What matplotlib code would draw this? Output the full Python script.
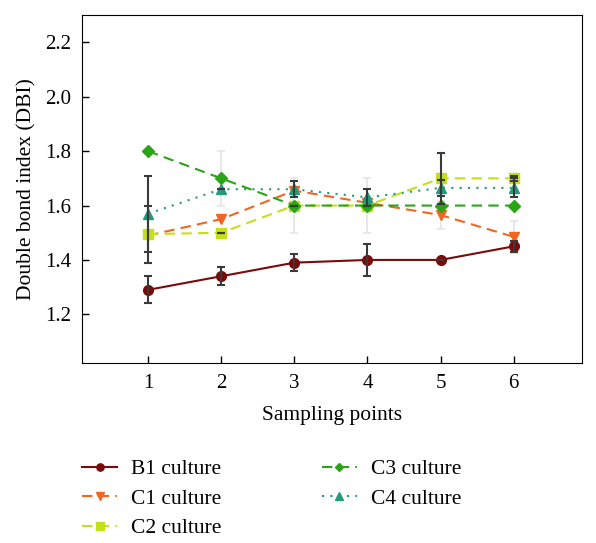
import matplotlib.pyplot as plt
import numpy as np

plt.rcParams["font.family"] = ["Liberation Serif", "DejaVu Serif"]
plt.rcParams["font.size"] = 15.5

# sampling points
points = [1, 2, 3, 4, 5, 6]

# DBI means and error
b1 = [1.29, 1.34, 1.39, 1.40, 1.40, 1.45]
b1_err = [0.05, 0.033, 0.03, 0.06, 0.0, 0.02]
c1 = [1.49, 1.55, 1.655, 1.61, 1.565, 1.485]
c1_err = [0.0, 0.0, 0.0, 0.0, 0.05, 0.06]
c2 = [1.495, 1.50, 1.60, 1.60, 1.70, 1.70]
c2_err = [0.105, 0.0, 0.0, 0.0, 0.095, 0.01]
c3 = [1.80, 1.70, 1.60, 1.60, 1.60, 1.60]
c3_err = [0.0, 0.10, 0.10, 0.10, 0.0, 0.0]
c4 = [1.57, 1.66, 1.66, 1.63, 1.665, 1.665]
c4_err = [0.14, 0.0, 0.03, 0.03, 0.03, 0.035]

DARK = "#3a3a3a"
LIGHT = "#e8e8e8"

series = [
    ("B1 culture", b1, b1_err, "#7b0a0a", "-", "o", DARK),
    ("C1 culture", c1, c1_err, "#f26522", (0, (5, 3)), "v", LIGHT),
    ("C2 culture", c2, c2_err, "#c5df1a", (0, (5, 3)), "s", DARK),
    ("C3 culture", c3, c3_err, "#2aa516", (0, (5, 3)), "D", LIGHT),
    ("C4 culture", c4, c4_err, "#239a7b", (0, (1, 3)), "^", DARK),
]

fig = plt.figure(figsize=(5.96, 5.43), dpi=100)
ax = fig.add_axes([0.138, 0.331, 0.838, 0.641])

handles = []
for name, vals, err, color, ls, mk, ecol in series:
    ax.errorbar(points, vals, yerr=err, fmt="none", ecolor=ecol,
                elinewidth=1.5, capsize=3, capthick=1.5,
                zorder=3 if ecol == DARK else 1)
    ms = 6 if mk == "D" else 7
    h, = ax.plot(points, vals, linestyle=ls, color=color, marker=mk,
                 markersize=ms, linewidth=1.5, label=name, zorder=2)
    handles.append(h)

ax.set_xlim(0.1, 6.93)
ax.set_ylim(1.02, 2.3)
ax.set_xticks(points)
ax.set_yticks([1.2, 1.4, 1.6, 1.8, 2.0, 2.2])
ax.yaxis.set_major_formatter(plt.FormatStrFormatter("%.1f"))
ax.tick_params(direction="in", length=5, width=1, pad=8, labelsize=15)
ax.set_xlabel("Sampling points", labelpad=9)
ax.set_ylabel("Double bond index (DBI)", labelpad=6)

# legend: column 1 = B1, C1, C2; column 2 = C3, C4
fig.legend(handles=handles, loc="upper left", bbox_to_anchor=(0.105, 0.19),
           ncol=2, frameon=False, handlelength=1.63, handletextpad=0.65,
           columnspacing=4.65, labelspacing=0.44, markerscale=0.75,
           fontsize=15.5)

fig.savefig("out.png", dpi=100)
